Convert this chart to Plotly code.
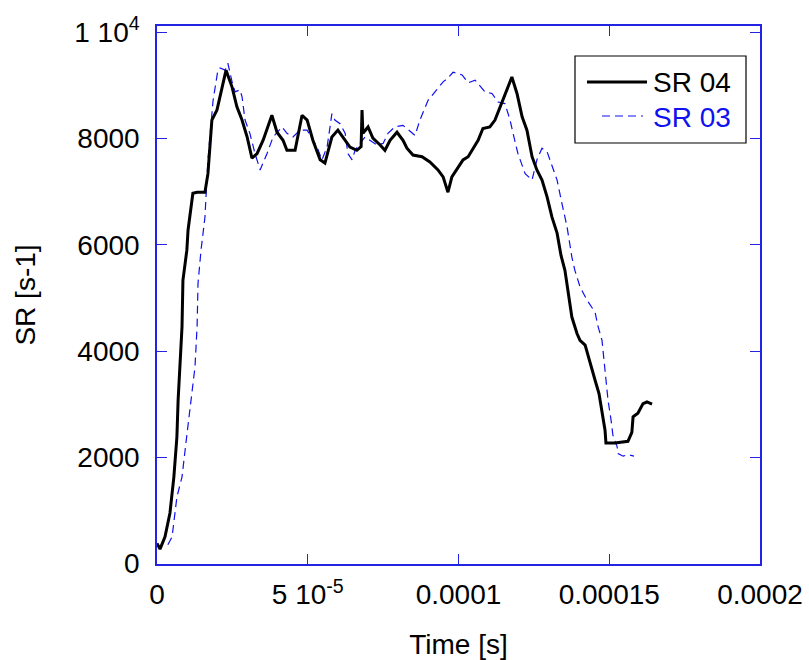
import numpy as np
import plotly.graph_objects as go

# ---- data (time in microseconds, SR in s^-1) ----
t_sr04_us = [0.0, 1.0, 2.65, 4.3, 5.6, 6.6, 7.0, 7.6, 8.3, 8.6, 9.9, 10.3, 11.9, 13.3, 15.9, 16.9,
             18.2, 19.9, 21.6, 22.9, 24.9, 26.5, 28.2, 29.9, 31.5, 33.2, 35.2, 38.1, 39.8, 41.8,
             43.1, 45.8, 48.1, 49.8, 51.7, 54.1, 55.7, 58.0, 60.0, 61.7, 64.0, 66.3, 67.7, 68.0,
             68.3, 70.0, 71.6, 74.0, 75.6, 77.3, 79.6, 81.6, 82.9, 84.9, 87.9, 90.5, 93.2, 94.9,
             96.5, 97.8, 99.8, 101.5, 103.2, 104.8, 106.5, 108.1, 110.4, 112.1, 113.8, 115.4,
             117.7, 119.4, 121.1, 122.7, 124.4, 126.0, 127.7, 129.4, 131.0, 132.7, 134.0, 135.3,
             136.3, 137.6, 139.3, 140.3, 142.0, 143.6, 145.3, 146.6, 147.6, 148.6, 148.9, 151.9,
             156.2, 157.5, 157.9, 159.5, 161.2, 162.5, 164.2]
sr04 = [378, 270, 500, 950, 1630, 2380, 3070, 3770, 4460, 5330, 5900, 6280, 6970, 6990, 6990, 7340,
        8350, 8540, 8970, 9290, 8970, 8600, 8350, 8030, 7630, 7720, 7970, 8440, 8120, 7970,
        7780, 7780, 8440, 8350, 7970, 7600, 7540, 8030, 8160, 8030, 7840, 7780, 7850, 8540,
        8100, 8220, 8010, 7880, 7780, 7970, 8120, 7970, 7820, 7690, 7660, 7560, 7410, 7280,
        6990, 7280, 7440, 7600, 7660, 7820, 7970, 8190, 8220, 8350, 8600, 8850,
        9160, 8850, 8410, 8160, 7660, 7410, 7220, 6900, 6520, 6220, 5800, 5520,
        5150, 4640, 4330, 4200, 4110, 3770, 3450, 3200, 2880, 2510, 2270, 2270,
        2300, 2470, 2760, 2830, 3010, 3040, 3000]

t_sr03_us = [3.6, 5.0, 6.6, 8.3, 9.6, 10.6, 11.6, 12.6, 13.3, 13.6, 14.6, 15.9, 16.9, 18.2, 18.6,
             20.2, 20.9, 22.6, 23.5, 24.9, 25.9, 27.5, 28.2, 29.2, 30.8, 32.5, 34.2, 36.5, 38.5,
             41.5, 43.1, 45.1, 47.4, 49.8, 51.7, 53.1, 54.7, 56.4, 57.4, 58.0, 59.0, 60.7, 62.4,
             63.3, 64.7, 65.7, 67.3, 69.0, 70.6, 73.0, 75.0, 76.6, 78.9, 81.6, 85.6, 87.2, 89.9,
             92.9, 94.9, 96.5, 98.2, 101.2, 103.2, 105.5, 108.8, 111.1, 113.1, 115.4, 117.1,
             118.1, 119.7, 122.1, 124.4, 126.0, 127.7, 129.4, 131.0, 132.7, 134.3, 136.0, 137.6,
             138.6, 140.3, 142.6, 145.3, 146.3, 147.6, 148.3, 148.9, 149.6, 150.6, 151.2, 152.6,
             152.9, 154.6, 156.2, 158.2]
sr03 = [350, 500, 1250, 1630, 2270, 2760, 3200, 3700, 4460, 5270, 5900, 6520, 7600, 8540, 8720,
        9290, 9330, 9290, 9420, 9070, 8880, 8920, 8790, 8350, 8100, 7720, 7410, 7720, 8030,
        8220, 8100, 8030, 8160, 8160, 7970, 7840, 7600, 7840, 8220, 8470, 8350, 8280, 8100,
        7720, 7600, 7780, 7910, 8030, 7970, 7880, 7910, 8100, 8220, 8250, 8060, 8350, 8720,
        8920, 9070, 9140, 9250, 9200, 9050, 9100, 8880, 8850, 8690, 8660, 8350,
        8100, 7720, 7340, 7220, 7600, 7820, 7750, 7500, 7220, 6780, 6340, 5770,
        5520, 5210, 4960, 4730, 4460, 4200, 3830, 3390, 3070, 2700, 2420, 2200,
        2070, 2020, 2050, 2020]

x_tickvals = [0, 5e-5, 1e-4, 1.5e-4, 2e-4]
x_ticktext = ["0", "5 10<sup>-5</sup>", "0.0001", "0.00015", "0.0002"]
y_tickvals = [0, 2000, 4000, 6000, 8000, 10000]
y_ticktext = ["0", "2000", "4000", "6000", "8000", "1 10<sup>4</sup>"]

t04 = np.array(t_sr04_us) * 1e-6
t03 = np.array(t_sr03_us) * 1e-6

FONT = "Liberation Sans, Arial, sans-serif"
FRAME = "#2323E6"
BLUE = "#1010F0"

fig = go.Figure()
fig.add_trace(go.Scatter(x=t03, y=sr03, mode="lines", name="SR 03",
                         line=dict(color=BLUE, width=1.2, dash="8px,5px")))
fig.add_trace(go.Scatter(x=t04, y=sr04, mode="lines", name="SR 04",
                         line=dict(color="black", width=3)))

W, H = 809, 660
ml, mr, mt, mb = 157, 49, 26, 96
pw, ph = W - ml - mr, H - mt - mb


def px(xp):
    return (xp - ml) / pw


def py(yp):
    return (H - mb - yp) / ph


# manual legend (box, samples, labels)
shapes = [
    dict(type="rect", xref="paper", yref="paper", x0=px(575), x1=px(746), y0=py(143), y1=py(56),
         line=dict(color="black", width=1.2), fillcolor="white", layer="above"),
    dict(type="line", xref="paper", yref="paper", x0=px(587), x1=px(647), y0=py(82), y1=py(82),
         line=dict(color="black", width=3), layer="above"),
    dict(type="line", xref="paper", yref="paper", x0=px(602), x1=px(643), y0=py(116), y1=py(116),
         line=dict(color=BLUE, width=1.2, dash="8px,5px"), layer="above"),
]
annotations = [
    dict(text="SR 04", xref="paper", yref="paper", x=px(651), y=py(83), xanchor="left",
         yanchor="middle", showarrow=False, font=dict(family=FONT, size=28, color="black")),
    dict(text="SR 03", xref="paper", yref="paper", x=px(651), y=py(117), xanchor="left",
         yanchor="middle", showarrow=False, font=dict(family=FONT, size=28, color=BLUE)),
]

fig.update_layout(
    width=W, height=H,
    margin=dict(l=ml, r=mr, t=mt, b=mb, pad=0, autoexpand=False),
    paper_bgcolor="white", plot_bgcolor="white",
    showlegend=False,
    font=dict(family=FONT, size=28, color="black"),
    shapes=shapes, annotations=annotations,
)
fig.update_xaxes(
    range=[0, 2e-4], tickvals=x_tickvals, ticktext=x_ticktext,
    ticks="inside", ticklen=10, tickwidth=1.3, tickcolor=FRAME,
    showline=True, linecolor=FRAME, linewidth=1.5, mirror="ticks",
    showgrid=False, zeroline=False, ticklabelstandoff=5, automargin=False,
    title=dict(text="Time [s]", standoff=28, font=dict(size=28)),
)
fig.update_yaxes(
    range=[-11, 10121], tickvals=y_tickvals, ticktext=y_ticktext,
    ticks="inside", ticklen=10, tickwidth=1.3, tickcolor=FRAME,
    showline=True, linecolor=FRAME, linewidth=1.5, mirror="ticks",
    showgrid=False, zeroline=False, ticklabelstandoff=10, automargin=False,
    title=dict(text="SR [s-1]", standoff=30, font=dict(size=28)),
)

fig.write_html("out.html")
